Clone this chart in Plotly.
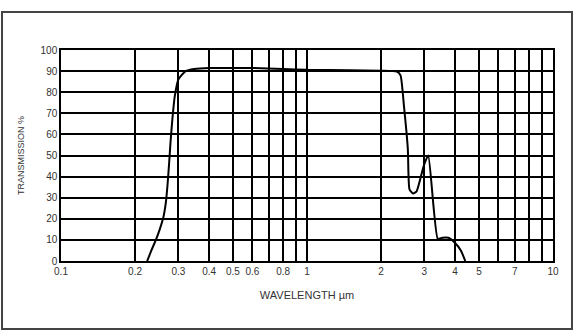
import plotly.graph_objects as go

# Data
wavelength = [0.224, 0.233, 0.243, 0.252, 0.261, 0.267, 0.271, 0.275, 0.279, 0.284, 0.290,
              0.300, 0.321, 0.348,
              0.40, 0.50, 0.60, 0.80, 1.0, 1.5, 2.0, 2.32, 2.40, 2.48, 2.57, 2.61, 2.70,
              2.79, 2.98, 3.11, 3.40, 3.55, 3.76, 4.0, 4.22, 4.40]
transmission = [0, 5, 10, 15, 21, 28, 36, 46, 57, 68, 78,
                86, 90, 91,
                91.5, 91.5, 91.5, 91.0, 90.6, 90.4, 90.2, 89.8, 88, 73, 53, 34, 32,
                33, 45, 50, 10.5, 11, 11, 8.5, 5, 0]

x_tick_vals = [0.1, 0.2, 0.3, 0.4, 0.5, 0.6, 0.8, 1, 2, 3, 4, 5, 7, 10]
x_tick_text = ["0.1", "0.2", "0.3", "0.4", "0.5", "0.6", "0.8", "1", "2", "3", "4", "5", "7", "10"]
x_minor_grid = [0.7, 0.9, 6, 8, 9]
y_tick_vals = [0, 10, 20, 30, 40, 50, 60, 70, 80, 90, 100]

fig = go.Figure()
fig.add_trace(go.Scatter(
    x=wavelength, y=transmission, mode="lines",
    line=dict(color="black", width=2, shape="spline", smoothing=0.5),
    hoverinfo="skip", showlegend=False,
))

font = "Liberation Sans, Arial, sans-serif"
fig.update_layout(
    width=584, height=333,
    margin=dict(l=61, r=31, t=50, b=72),
    paper_bgcolor="white", plot_bgcolor="white",
    font=dict(family=font, color="#333", size=10),
    xaxis=dict(
        type="log", range=[-1, 1],
        tickmode="array", tickvals=x_tick_vals, ticktext=x_tick_text,
        showgrid=True, gridcolor="black", gridwidth=1.5,
        minor=dict(tickvals=x_minor_grid, showgrid=True, gridcolor="black", gridwidth=1.5, ticks=""),
        showline=True, linecolor="black", linewidth=1.5, mirror=True,
        ticks="", tickfont=dict(size=10, color="#333"),
        title=dict(text="WAVELENGTH µm", font=dict(size=11, color="#333"), standoff=16),
        zeroline=False,
    ),
    yaxis=dict(
        range=[0, 100],
        tickmode="array", tickvals=y_tick_vals,
        showgrid=True, gridcolor="black", gridwidth=1.5,
        showline=True, linecolor="black", linewidth=1.5, mirror=True,
        ticks="", tickfont=dict(size=10, color="#333"),
        title=dict(text="TRANSMISSION %", font=dict(size=9, color="#333"), standoff=14),
        zeroline=False,
    ),
    shapes=[dict(
        type="rect", xref="paper", yref="paper",
        x0=-0.1199, x1=1.0386, y0=-0.322, y1=1.180,
        line=dict(color="#444", width=2), fillcolor="rgba(0,0,0,0)", layer="below",
    )],
)

fig.write_html("out.html")
